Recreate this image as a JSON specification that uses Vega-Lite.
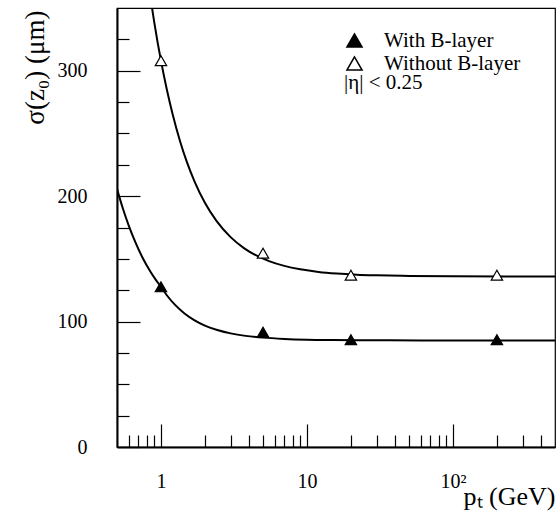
{
  "$schema": "https://vega.github.io/schema/vega-lite/v6.json",
  "autosize": {"type": "none"},
  "padding": {"left": 117, "top": 8, "right": 5, "bottom": 77},
  "width": 438,
  "height": 439,
  "config": {
    "font": "Liberation Serif",
    "view": {"stroke": "#000", "strokeWidth": 1.2},
    "axis": {
      "grid": false,
      "domainColor": "#000",
      "domainWidth": 2,
      "tickColor": "#000",
      "tickWidth": 1.2,
      "labelColor": "#000",
      "titleColor": "#000",
      "labelFont": "Liberation Serif",
      "titleFont": "Liberation Serif",
      "titleFontWeight": "normal"
    }
  },
  "datasets": {
    "curves": [
      {"series": "With B-layer", "pt": 0.5, "sigma": 205.8},
      {"series": "With B-layer", "pt": 0.55, "sigma": 189.7},
      {"series": "With B-layer", "pt": 0.6, "sigma": 176.9},
      {"series": "With B-layer", "pt": 0.67, "sigma": 162.9},
      {"series": "With B-layer", "pt": 0.75, "sigma": 150.7},
      {"series": "With B-layer", "pt": 0.85, "sigma": 139.5},
      {"series": "With B-layer", "pt": 0.92, "sigma": 133.4},
      {"series": "With B-layer", "pt": 1.0, "sigma": 127.7},
      {"series": "With B-layer", "pt": 1.1, "sigma": 120.8},
      {"series": "With B-layer", "pt": 1.25, "sigma": 113.3},
      {"series": "With B-layer", "pt": 1.45, "sigma": 106.5},
      {"series": "With B-layer", "pt": 1.7, "sigma": 101.0},
      {"series": "With B-layer", "pt": 2.0, "sigma": 96.8},
      {"series": "With B-layer", "pt": 2.4, "sigma": 93.5},
      {"series": "With B-layer", "pt": 3.0, "sigma": 90.6},
      {"series": "With B-layer", "pt": 3.8, "sigma": 88.6},
      {"series": "With B-layer", "pt": 5.0, "sigma": 87.2},
      {"series": "With B-layer", "pt": 7.0, "sigma": 86.2},
      {"series": "With B-layer", "pt": 10.0, "sigma": 85.6},
      {"series": "With B-layer", "pt": 15.0, "sigma": 85.3},
      {"series": "With B-layer", "pt": 25.0, "sigma": 85.1},
      {"series": "With B-layer", "pt": 60.0, "sigma": 85.0},
      {"series": "With B-layer", "pt": 500.0, "sigma": 85.0},
      {"series": "Without B-layer", "pt": 0.85, "sigma": 357.3},
      {"series": "Without B-layer", "pt": 0.9, "sigma": 338.5},
      {"series": "Without B-layer", "pt": 0.95, "sigma": 322.2},
      {"series": "Without B-layer", "pt": 1.0, "sigma": 308.0},
      {"series": "Without B-layer", "pt": 1.1, "sigma": 284.4},
      {"series": "Without B-layer", "pt": 1.2, "sigma": 265.7},
      {"series": "Without B-layer", "pt": 1.35, "sigma": 244.0},
      {"series": "Without B-layer", "pt": 1.5, "sigma": 227.7},
      {"series": "Without B-layer", "pt": 1.7, "sigma": 211.6},
      {"series": "Without B-layer", "pt": 2.0, "sigma": 194.7},
      {"series": "Without B-layer", "pt": 2.4, "sigma": 180.3},
      {"series": "Without B-layer", "pt": 3.0, "sigma": 167.3},
      {"series": "Without B-layer", "pt": 3.7, "sigma": 158.6},
      {"series": "Without B-layer", "pt": 4.5, "sigma": 152.7},
      {"series": "Without B-layer", "pt": 5.5, "sigma": 148.2},
      {"series": "Without B-layer", "pt": 7.0, "sigma": 144.4},
      {"series": "Without B-layer", "pt": 9.0, "sigma": 141.7},
      {"series": "Without B-layer", "pt": 12.0, "sigma": 139.6},
      {"series": "Without B-layer", "pt": 16.0, "sigma": 138.3},
      {"series": "Without B-layer", "pt": 22.0, "sigma": 137.4},
      {"series": "Without B-layer", "pt": 30.0, "sigma": 136.9},
      {"series": "Without B-layer", "pt": 50.0, "sigma": 136.4},
      {"series": "Without B-layer", "pt": 100.0, "sigma": 136.1},
      {"series": "Without B-layer", "pt": 500.0, "sigma": 136.0}
    ],
    "points": [
      {"series": "With B-layer", "pt": 1, "sigma": 127.7},
      {"series": "With B-layer", "pt": 5, "sigma": 91.5},
      {"series": "With B-layer", "pt": 20, "sigma": 85.5},
      {"series": "With B-layer", "pt": 200, "sigma": 85.5},
      {"series": "Without B-layer", "pt": 1, "sigma": 308},
      {"series": "Without B-layer", "pt": 5, "sigma": 154.5},
      {"series": "Without B-layer", "pt": 20, "sigma": 137},
      {"series": "Without B-layer", "pt": 200, "sigma": 137}
    ]
  },
  "layer": [
    {
      "data": {"name": "curves"},
      "mark": {"type": "line", "color": "#000", "strokeWidth": 2, "interpolate": "monotone", "clip": true},
      "encoding": {
        "x": {
          "field": "pt", "type": "quantitative",
          "scale": {"type": "log", "domain": [0.5, 500], "nice": false},
          "axis": {
            "orient": "bottom",
            "values": [1, 10, 100],
            "tickSize": -23,
            "labelPadding": 47,
            "labelFontSize": 20,
            "labelExpr": "datum.value == 1 ? '1' : datum.value == 10 ? '10' : '10²'",
            "title": "pₜ (GeV)",
            "titleFontSize": 26,
            "titleAnchor": "end",
            "titleAlign": "right",
            "titleBaseline": "alphabetic",
            "titleX": 438,
            "titleY": 57
          }
        },
        "y": {
          "field": "sigma", "type": "quantitative",
          "scale": {"domain": [0, 350], "nice": false, "zero": false},
          "axis": {
            "orient": "left",
            "values": [0, 100, 200, 300],
            "tickSize": -23,
            "labelPadding": 53,
            "labelFontSize": 20,
            "title": "σ(z₀) (μm)",
            "titleFontSize": 27,
            "titleAnchor": "end",
            "titleAlign": "right",
            "titleBaseline": "alphabetic",
            "titleAngle": 270,
            "titleX": -74,
            "titleY": 2
          }
        },
        "detail": {"field": "series"}
      }
    },
    {
      "data": {"name": "points"},
      "mark": {"type": "point", "shape": "triangle-up", "filled": true, "stroke": "#000", "strokeWidth": 1.2, "size": 130, "opacity": 1},
      "encoding": {
        "x": {
          "field": "pt", "type": "quantitative",
          "scale": {"type": "log", "domain": [0.5, 500], "nice": false},
          "axis": {
            "orient": "bottom",
            "values": [0.6, 0.7, 0.8, 0.9, 2, 3, 4, 5, 6, 7, 8, 9, 20, 30, 40, 50, 60, 70, 80, 90, 200, 300, 400],
            "tickSize": -12,
            "labels": false,
            "domain": false,
            "title": null
          }
        },
        "y": {
          "field": "sigma", "type": "quantitative",
          "scale": {"domain": [0, 350], "nice": false, "zero": false},
          "axis": {
            "orient": "left",
            "values": [25, 50, 75, 125, 150, 175, 225, 250, 275, 325],
            "tickSize": -12,
            "labels": false,
            "domain": false,
            "title": null
          }
        },
        "fill": {
          "field": "series", "type": "nominal",
          "scale": {"domain": ["With B-layer", "Without B-layer"], "range": ["#000", "#fff"]},
          "legend": {
            "orient": "none",
            "legendX": 227,
            "legendY": 22,
            "padding": 0,
            "title": "|η| < 0.25",
            "titleOrient": "bottom",
            "titleAnchor": "start",
            "titleFont": "Liberation Serif",
            "titleFontSize": 21,
            "titleFontWeight": "normal",
            "titleColor": "#000",
            "titlePadding": -2,
            "labelFont": "Liberation Serif",
            "labelFontSize": 21,
            "labelColor": "#000",
            "labelOffset": 19,
            "symbolType": "triangle-up",
            "symbolSize": 230,
            "symbolStrokeColor": "#000",
            "symbolStrokeWidth": 1.5,
            "symbolOpacity": 1,
            "rowPadding": 1
          }
        }
      }
    }
  ],
  "resolve": {"axis": {"x": "independent", "y": "independent"}}
}
